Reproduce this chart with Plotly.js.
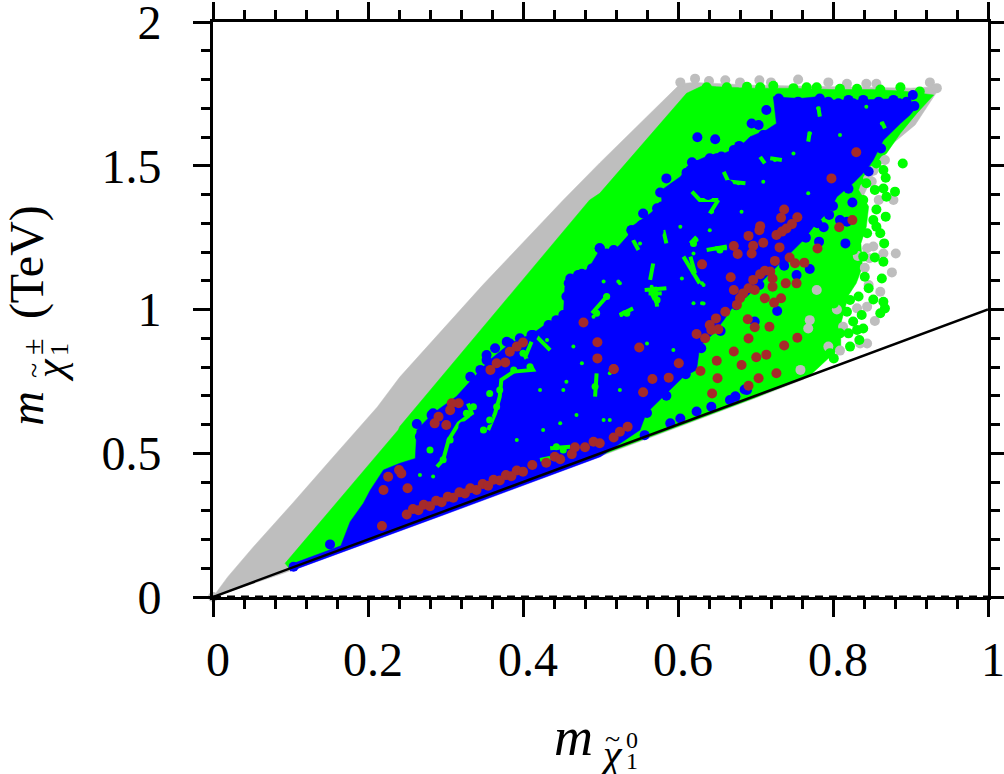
<!DOCTYPE html>
<html>
<head>
<meta charset="utf-8">
<script src="https://cdn.plot.ly/plotly-3.0.1.min.js"></script>
<style>html,body{margin:0;padding:0;background:#fff}</style>
</head>
<body>
<div id="chart" style="width:1004px;height:774px"></div>
<script>
// m_chi10 (x), m_chi1+- (y), both in TeV
const xTickVals = [0, 0.2, 0.4, 0.6, 0.8, 1];
const xTickText = ["0", "0.2", "0.4", "0.6", "0.8", "1"];
const yTickVals = [0, 0.5, 1, 1.5, 2];
const yTickText = ["0", "0.5", "1", "1.5", "2"];

// allowed region outline (gray)
const grayAreaX = [0,.019,.052,.103,.155,.212,.241,.348,.452,.499,.603,.62,.70,.80,.90,.93,.936,.906,.867,.84,.80,.762,.70,.50,.30,.09,0];
const grayAreaY = [0,.07,.174,.327,.487,.661,.765,1.085,1.381,1.51,1.785,1.79,1.78,1.775,1.77,1.775,1.765,1.642,1.555,1.40,1.10,.757,.692,.49,.29,.082,0];
const grayPtsX = [0,.867,.852,.850,.859,.878,.852,.844,.865,.881,.832,.847,.841,.876,.846,.861,.844,.831,.854,.813,.844,.835,.809,.794,.770,.768,.779,.805,.758,
  .603,.622,.640,.661,.680,.705,.720,.755,.794,.818,.843,.856,.925,.934];
const grayPtsY = [0,1.520,1.483,1.445,1.381,1.381,1.219,1.213,1.195,1.195,1.186,1.178,1.145,1.129,1.085,1.062,1.010,1.004,.960,.940,.882,.882,.857,.871,.963,.934,1.068,1.000,.790,
  1.790,1.803,1.795,1.797,1.790,1.797,1.790,1.800,1.790,1.785,1.785,1.785,1.790,1.770];

// green region
const greenAreaX = [.093,.239,.241,.486,.499,.611,.633,.65,.70,.75,.80,.85,.89,.915,.930,.908,.887,.869,.852,.839,.833,.846,.843,.836,.838,.830,.820,.810,.810,.79,.77,.70,.50,.30,.10,.093];
const greenAreaY = [.117,.581,.593,1.381,1.404,1.752,1.780,1.775,1.770,1.770,1.765,1.765,1.760,1.750,1.746,1.682,1.613,1.543,1.508,1.462,1.416,1.358,1.288,1.230,1.149,1.091,1.05,.95,.87,.82,.77,.694,.492,.292,.094,.117];
const greenPtsX = [.890,.865,.868,.856,.854,.865,.880,.869,.856,.868,.852,.856,.861,.844,.866,.854,.865,.828,.841,.863,.846,.833,.852,.865,.867,.861,.837,.826,.839,.831,.820,.809,.834,.822,.796,.801,.818,.822,.801,.826,.813,.826,.839,.833,.843,.839,.835,
  .637,.663,.689,.706,.723,.749,.766,.779,.809,.831,.861,.887,.912];
const greenPtsY = [1.508,1.485,1.458,1.508,1.416,1.421,1.410,1.392,1.348,1.323,1.311,1.288,1.265,1.265,1.230,1.181,1.166,1.151,1.114,1.108,1.074,1.045,1.035,1.027,1.004,.987,.981,.958,.934,.929,.917,.917,.894,.871,.848,.830,.992,1.033,1.021,1.114,1.080,1.207,1.184,1.450,1.439,1.381,1.335,
  1.773,1.773,1.775,1.773,1.778,1.770,1.773,1.773,1.768,1.768,1.765,1.773,1.758];

// blue region
const blueAreaX = [.099,.165,.177,.194,.203,.220,.241,.261,.263,.284,.314,.345,.357,.383,.413,.431,.452,.454,.486,.499,.517,.542,.540,.564,.579,.579,.603,.616,.641,.659,.680,.693,.714,.727,.723,.757,.779,.800,.835,.887,.908,.899,.887,.865,.852,.843,.826,.805,.796,.775,.762,.736,.702,.689,.671,.659,.646,.628,.624,.607,.581,.559,.551,.517,.50,.30,.10,.099];
const blueAreaY = [.112,.178,.262,.326,.372,.442,.465,.482,.581,.639,.697,.790,.824,.882,.917,.952,.975,1.079,1.149,1.207,1.201,1.277,1.288,1.334,1.369,1.416,1.462,1.508,1.537,1.543,1.566,1.601,1.624,1.647,1.740,1.734,1.740,1.729,1.729,1.734,1.705,1.676,1.647,1.589,1.520,1.485,1.439,1.392,1.346,1.288,1.242,1.172,1.079,1.045,1.010,.963,.917,.871,.790,.766,.697,.639,.581,.517,.488,.288,.09,.112];
const bluePtsX = [.730,.755,.714,.783,.770,.695,.704,.723,.625,.648,.679,.618,.656,.641,.641,.650,.611,.585,.607,.635,.665,.577,.600,.639,.579,.620,.568,.540,.551,.575,.592,.517,.499,.903,.905,.895,.874,.859,.826,.807,.857,
  .825,.809,.818,.816,.782,.795,.788,.770,.753,.737,.728,.699,.689,.674,
  .332,.345,.353,.411,.433,.459,.476,.489,.499,.540,.327,.342,.263,.271,.323,.338,.355,.351,.407,.383,.301,.284,
  .557,.590,.603,.624,.643,.667,.686,.674,.151,.181,.104,
  .267,.282,.353,.364,.379,.396,.413,.443,.452,.456,.461,.471,.508,.517,.527,.542,.553,
  .555,.573,.585,.596,.616,.624,.650,.672,.689,.710,.740,.753,.766,.794,.820,.839,.878,
  .862,.846,.820,.800,.780,.765,.740,.705,.675,.655,.630,.610,.585,.560];
const bluePtsY = [1.734,1.723,1.694,1.734,1.700,1.647,1.642,1.613,1.599,1.592,1.569,1.512,1.532,1.526,1.497,1.474,1.476,1.456,1.441,1.439,1.433,1.407,1.398,1.398,1.358,1.352,1.314,1.276,1.282,1.271,1.276,1.184,1.213,1.746,1.708,1.723,1.717,1.723,1.717,1.717,1.694,
  1.372,1.311,1.305,1.230,1.236,1.329,1.286,1.141,1.120,1.152,.995,.958,.720,.697,
  .766,.790,.824,.911,.946,1.091,1.124,1.143,1.213,1.276,.697,.685,.602,.517,.593,.616,.616,.645,.813,.882,.627,.639,
  .563,.604,.621,.645,.662,.685,.722,.697,.183,.216,.105,
  .558,.633,.842,.865,.888,.900,.911,.963,.981,1.045,1.108,1.120,1.195,1.207,1.207,1.259,1.294,
  1.334,1.352,1.392,1.427,1.485,1.503,1.526,1.555,1.566,1.607,1.636,1.694,1.705,1.723,1.729,1.729,1.729,
  1.560,1.480,1.420,1.360,1.300,1.250,1.180,1.085,1.015,.925,.865,.775,.700,.640];

// green channels left open inside the blue cloud (null separates channels)
const channelX = [.411,.403,.413,.388,.372,.370,.364,.355,null,.329,.334,.317,.304,.297,.289,null,.435,.461,null,.422,.445,null,.570,.573,null,.557,.585,null,.525,.542,null,.489,.508,null,.418,.435,null,.495,.493,null,.637,.663,null,.607,.628,null,
  .618,.628,.652,null,.641,.652,null,.659,.665,.687,null,.770,.768,null,.781,.783,null,.706,.712,null,.719,.734,null,.564,.570,null,.562,.579,null,.525,.532,null,.616,.622,null,.648,.663,null,.624,.616,null,.863,.867,null,.542,.549,null,.581,.585,null,.568,.564];
const channelY = [.888,.836,.790,.784,.755,.697,.639,.581,null,.673,.639,.604,.546,.477,.453,null,.517,.523,null,.477,.490,null,1.079,1.010,null,1.068,1.074,null,.981,1.004,null,.987,1.045,null,.905,.859,null,.778,.697,null,1.207,1.219,null,1.184,1.091,null,
  1.410,1.381,1.381,null,1.334,1.381,null,1.479,1.445,1.439,null,1.618,1.584,null,1.705,1.671,null,1.531,1.508,null,1.526,1.520,null,1.068,1.033,null,1.056,1.056,null,.981,.992,null,1.184,1.126,null,1.213,1.213,null,1.253,1.230,null,1.653,1.630,null,1.242,1.207,null,1.276,1.230,null,1.160,1.103];

// green gaps left inside the blue cloud
const gapBigX = [.443,.452,.327,.366,.357,.349,.306,.297,.336,.370,.357,.409,.400,.388,.493,.570,.573,.654,.534,.620,.508,.495,.280];
const gapBigY = [.523,.511,.639,.662,.616,.581,.546,.477,.662,.720,.708,.801,.848,.790,.732,1.056,1.033,1.207,.987,1.230,1.045,.987,.511];
const gapSmallX = [.267,.284,.452,.523,.426,.392,.469,.504,.512,.448,.491,.465,.431,.560,.594,.631,.620,.633,.605,.620,.504,.456,.422,.525,.476,.512,.568,.566,.527,.525,.506,.620,.652,.624,.631,.633,.770,.781,.863,.809,.725,.678,.646,.644,.710,.749,.768,.843,.682,.641,.603,.551];
const gapSmallY = [.424,.419,.720,1.097,.581,.546,.633,.616,.616,.604,.975,.871,.894,.882,.859,1.022,1.022,1.085,1.108,1.126,1.097,.749,.720,.720,.813,.778,1.056,1.079,.981,1.091,1.045,1.195,1.213,1.242,1.091,1.021,1.613,1.700,1.647,1.607,1.520,1.439,1.381,1.340,1.444,1.543,1.404,1.705,1.340,1.276,1.288,1.230];

// brown points
const brownX = [.830,.798,.737,.733,.754,.747,.740,.734,.727,.706,.705,.691,.710,.697,.672,.677,.695,.731,.825,.808,.780,.744,.751,.763,.725,.631,.668,.672,.739,.753,
  .719,.712,.706,.697,.722,.722,.691,.684,.680,.676,.699,.712,.733,.724,.661,.649,.641,.652,.624,.635,.643,.690,.699,.718,.691,.754,.737,.672,.701,.714,.650,.682,.629,.651,.727,.704,.691,.644,
  .550,.601,.517,.567,.588,.555,.478,.496,.496,.517,.400,.392,.383,.377,.366,.358,.317,.308,.306,.291,.301,.286,.251,.243,.218,.220,.226,.240,
  .250,.258,.265,.272,.280,.288,.295,.303,.310,.318,.325,.332,.340,.348,.355,.362,.370,.378,.385,.392,.400,.412,.430,.441,.448,.463,.467,.480,.491,.499,.517,.525,.535];
const brownY = [1.547,1.456,1.348,1.319,1.321,1.297,1.282,1.271,1.259,1.290,1.276,1.256,1.232,1.222,1.221,1.193,1.195,1.216,1.311,1.286,1.212,1.181,1.161,1.163,1.169,1.157,1.112,1.068,1.091,1.091,
  1.132,1.135,1.123,1.103,1.108,1.079,1.074,1.056,1.039,1.016,1.068,1.039,1.039,1.024,.992,.969,.946,.931,.915,.900,.929,.966,.938,.940,.899,.902,.875,.854,.834,.843,.822,.807,.786,.761,.778,.761,.735,.708,
  .868,.813,.793,.758,.763,.712,.955,.886,.830,.792,.885,.871,.853,.816,.813,.790,.674,.674,.650,.627,.598,.604,.378,.430,.247,.372,.418,.442,
  .287,.306,.302,.321,.316,.335,.330,.349,.345,.364,.360,.378,.372,.393,.387,.408,.405,.424,.420,.440,.436,.459,.467,.488,.479,.497,.521,.521,.540,.535,.555,.575,.592];

const diagX = [0, 1];
const diagY = [0, 1];
const zeroX = [0, 1];
const zeroY = [0.003, 0.003];

const GRAY = "#bebebe", GREEN = "#00ff00", BLUE = "#0000ff", BROWN = "#a52a2a";
const SIZE = 10;

function area(x, y, color) {
  return {type: "scatter", mode: "lines", x, y, fill: "toself", fillcolor: color,
          line: {color: color, width: 0.5}, hoverinfo: "skip", showlegend: false};
}
function points(x, y, color, size, extra) {
  return Object.assign({type: "scatter", mode: "markers", x, y,
          marker: {color: color, size: size, line: {width: 0}}, hoverinfo: "skip", showlegend: false}, extra || {});
}

const traces = [
  area(grayAreaX, grayAreaY, GRAY),
  area(greenAreaX, greenAreaY, GREEN),
  points(grayPtsX, grayPtsY, GRAY, SIZE, {cliponaxis: false}),
  points(greenPtsX, greenPtsY, GREEN, SIZE),
  area(blueAreaX, blueAreaY, BLUE),
  {type: "scatter", mode: "lines", x: channelX, y: channelY, connectgaps: false, line: {color: GREEN, width: 4}, hoverinfo: "skip", showlegend: false},
  points(bluePtsX, bluePtsY, BLUE, SIZE),
  points(gapBigX, gapBigY, GREEN, 7),
  points(gapSmallX, gapSmallY, GREEN, 4),
  points(brownX, brownY, BROWN, SIZE),
  {type: "scatter", mode: "lines", x: diagX, y: diagY, line: {color: "#000", width: 2.5}, hoverinfo: "skip", showlegend: false},
  {type: "scatter", mode: "lines", x: zeroX, y: zeroY, line: {color: "#000", width: 1.5, dash: "8px,6px"}, hoverinfo: "skip", showlegend: false}
];

const FONT = "Liberation Serif";
function px(x) { return (x - 213) / 775; }
function py(y) { return (597 - y) / 575; }
function piece(text, x, y, size, angle) {
  return {text, xref: "paper", yref: "paper", x: px(x), y: py(y), xanchor: "center", yanchor: "middle",
          showarrow: false, textangle: angle || 0, font: {family: FONT, size: size, color: "#000"}};
}

const layout = {
  width: 1004, height: 774,
  margin: {l: 213, r: 16, t: 22, b: 177, pad: 0},
  paper_bgcolor: "#fff", plot_bgcolor: "#fff",
  font: {family: FONT, size: 48, color: "#000"},
  showlegend: false,
  xaxis: {
    range: [0, 1], tickmode: "array", tickvals: xTickVals, ticktext: xTickText,
    ticks: "outside", ticklen: 17, tickwidth: 3, tickcolor: "#000",
    minor: {dtick: 0.04, ticks: "outside", ticklen: 9, tickwidth: 3, tickcolor: "#000"},
    showline: true, linewidth: 3, linecolor: "#000", mirror: "ticks", showgrid: false, zeroline: false,
    ticklabelstandoff: 1, ticklabelshift: 5, ticklabeloverflow: "allow",
    tickfont: {family: FONT, size: 48, color: "#000"},
    title: {text: "<i>m</i>\u00a0\u00a0\u00a0\u00a0\u200b", font: {family: FONT, size: 54, color: "#000"}, standoff: 33}
  },
  yaxis: {
    range: [0, 2], tickmode: "array", tickvals: yTickVals, ticktext: yTickText,
    ticks: "outside", ticklen: 17, tickwidth: 3, tickcolor: "#000",
    minor: {dtick: 0.1, ticks: "outside", ticklen: 9, tickwidth: 3, tickcolor: "#000"},
    showline: true, linewidth: 3, linecolor: "#000", mirror: "ticks", showgrid: false, zeroline: false,
    ticklabelstandoff: 22, ticklabeloverflow: "allow",
    tickfont: {family: FONT, size: 48, color: "#000"},
    title: {text: "<i>m</i>\u00a0\u00a0\u00a0\u00a0\u00a0\u00a0(TeV)\u00a0\u200b", font: {family: FONT, size: 48, color: "#000"}, standoff: 54}
  },
  annotations: [
    piece("<i>χ</i>", 611, 754, 42),
    piece("~", 612, 738, 28),
    piece("0", 632, 740, 24),
    piece("1", 632, 761, 24),
    piece("<i>χ</i>", 50, 370, 42, -90),
    piece("~", 33, 371, 28, -90),
    piece("±", 32, 347, 30, -90),
    piece("1", 59, 350, 26, -90)
  ]
};

Plotly.newPlot("chart", traces, layout, {displayModeBar: false, staticPlot: true});
</script>
</body>
</html>
